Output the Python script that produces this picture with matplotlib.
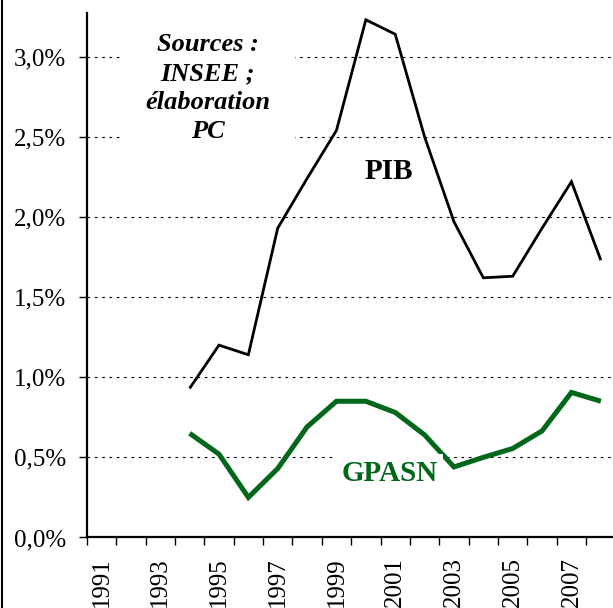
import numpy as np
import matplotlib
matplotlib.use("Agg")
import matplotlib.pyplot as plt
from matplotlib.lines import Line2D
from matplotlib.ticker import FixedLocator, FuncFormatter

plt.rcParams["font.family"] = ["Liberation Serif", "DejaVu Serif"]

# === Data (% growth) ===
years = list(range(1991, 2009))
pib = [np.nan, np.nan, np.nan, 0.93, 1.20, 1.14, 1.93, 2.24, 2.54, 3.23,
       3.14, 2.50, 1.97, 1.62, 1.63, 1.93, 2.22, 1.73]
gpasn = [np.nan, np.nan, np.nan, 0.65, 0.52, 0.25, 0.43, 0.69, 0.85, 0.85,
         0.78, 0.64, 0.44, 0.50, 0.555, 0.665, 0.905, 0.85]
year_labels = [str(y) for y in years[::2]]
yticks = [0.0, 0.5, 1.0, 1.5, 2.0, 2.5, 3.0]

GREEN = "#006619"
TICK_FONT_SIZE = 18

fig = plt.figure(figsize=(6.13, 6.08), dpi=100)
ax = fig.add_axes([0.1416, 0.116, 0.8625, 0.862])

x = np.arange(len(years))
ax.plot(x, pib, color="black", lw=2.0, solid_capstyle="butt",
        solid_joinstyle="miter", zorder=3)
ax.plot(x, gpasn, color=GREEN, lw=3.6, solid_capstyle="butt",
        solid_joinstyle="miter", zorder=3)

# === Axes ===
ax.set_xlim(-0.5, len(years) - 0.5)
ax.set_ylim(0, 3.27)

ax.xaxis.set_major_locator(FixedLocator(np.arange(len(years) + 1) - 0.5))
ax.xaxis.set_major_formatter(FuncFormatter(lambda v, p: ""))
ax.xaxis.set_minor_locator(FixedLocator(x[::2]))
ax.set_xticklabels(year_labels, minor=True, rotation=90, va="top",
                   fontsize=TICK_FONT_SIZE)
ax.tick_params(axis="x", which="major", direction="out", length=6, width=1)
ax.tick_params(axis="x", which="minor", length=0, pad=14)

ax.set_yticks(yticks)
ax.yaxis.set_major_formatter(
    FuncFormatter(lambda v, p: f"{v:.1f}".replace(".", ",") + "%"))
ax.tick_params(axis="y", direction="out", length=6, width=1,
               labelsize=TICK_FONT_SIZE, pad=9)

for v in yticks[1:]:
    ax.axhline(v, color="black", lw=0.8, dashes=(2.4, 4.2), zorder=1)

for side in ["top", "right"]:
    ax.spines[side].set_visible(False)
ax.spines["left"].set_linewidth(1.6)
ax.spines["bottom"].set_linewidth(1.6)

# === Labels ===
ax.text(0.229, 0.858, "Sources :\nINSEE ;\nélaboration\nPC",
        transform=ax.transAxes, ha="center", va="center",
        fontsize=19, fontweight="bold", fontstyle="italic", linespacing=1.33,
        bbox=dict(facecolor="white", edgecolor="none", pad=18), zorder=4)
ax.text(0.572, 0.699, "PIB", transform=ax.transAxes, ha="center",
        va="center", fontsize=21, fontweight="bold", zorder=4)
ax.text(0.573, 0.123, "GPASN", transform=ax.transAxes, ha="center",
        va="center", fontsize=21, fontweight="bold", color=GREEN,
        bbox=dict(facecolor="white", edgecolor="none", pad=4), zorder=4)

# frame edge on the left of the picture
fig.add_artist(Line2D([0.004, 0.004], [0, 1], transform=fig.transFigure,
                      color="black", lw=1.5))

fig.savefig("out.png", dpi=100)
